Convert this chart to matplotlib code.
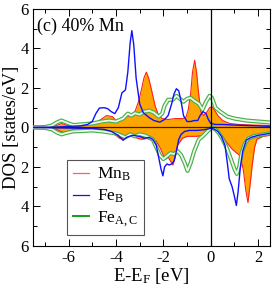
import matplotlib
matplotlib.use("Agg")
import matplotlib.pyplot as plt
from matplotlib.ticker import MultipleLocator, FuncFormatter

plt.rcParams['font.family'] = ['Liberation Serif', 'DejaVu Serif']
plt.rcParams['mathtext.fontset'] = 'custom'
plt.rcParams['mathtext.rm'] = 'Liberation Serif'
plt.rcParams['mathtext.it'] = 'Liberation Serif:italic'
plt.rcParams['axes.unicode_minus'] = False

# Fe_B spin up / spin down (blue)
feb_up_e = [-7.5, -6.5, -6.0, -5.5, -5.2, -5.0, -4.85, -4.7, -4.5, -4.35, -4.2, -4.05, -3.9, -3.75,
            -3.6, -3.5, -3.4, -3.33, -3.25, -3.15, -3.0, -2.85, -2.6, -2.4, -2.15, -1.95, -1.8,
            -1.65, -1.55, -1.45, -1.35, -1.25, -1.15, -1.0, -0.85, -0.7, -0.55, -0.45, -0.33, -0.2,
            -0.1, 0.0, 0.2, 0.5, 1.0, 1.5, 2.0, 2.5]
feb_up = [0.0, 0.02, 0.05, 0.08, 0.15, 0.3, 0.7, 0.98, 1.0, 0.95, 0.8, 0.7, 1.0, 1.75,
          1.9, 2.8, 4.3, 4.9, 4.2, 2.5, 1.2, 0.75, 0.5, 0.35, 0.27, 0.4, 0.6,
          1.2, 1.7, 1.96, 1.85, 1.3, 0.6, 0.3, 0.3, 0.35, 0.35, 0.6, 0.8, 0.7,
          0.4, 0.2, 0.15, 0.15, 0.12, 0.1, 0.08, 0.05]
feb_dn_e = [-7.5, -6.0, -5.0, -4.5, -4.2, -3.9, -3.7, -3.55, -3.3, -3.0, -2.8, -2.6, -2.45, -2.3,
            -2.2, -2.1, -2.02, -1.95, -1.85, -1.75, -1.65, -1.55, -1.45, -1.35, -1.25, -1.1,
            -0.9, -0.6, -0.3, 0.0, 0.15, 0.3, 0.45, 0.6, 0.7, 0.78, 0.9, 1.0, 1.08, 1.15, 1.25,
            1.35, 1.5, 1.7, 2.0, 2.5]
feb_dn = [0.0, -0.03, -0.05, -0.1, -0.2, -0.4, -0.65, -0.5, -0.4, -0.45, -0.55, -0.5, -0.6, -0.9,
          -1.5, -2.1, -2.45, -2.0, -1.85, -1.9, -1.85, -1.7, -1.2, -0.6, -0.35, -0.2,
          -0.15, -0.15, -0.12, -0.05, -0.08, -0.2, -0.45, -0.9, -1.8, -2.6, -3.0, -3.5, -3.95, -3.3, -2.0,
          -1.2, -0.65, -0.5, -0.4, -0.3]

# Mn_B spin up / spin down (red line, orange fill)
mnb_up_e = [-7.5, -6.8, -6.5, -6.3, -6.1, -5.8, -5.4, -5.0, -4.7, -4.4, -4.15, -4.0, -3.8, -3.6,
            -3.4, -3.2, -3.05, -2.93, -2.82, -2.72, -2.62, -2.5, -2.35, -2.2, -2.05, -1.8, -1.5,
            -1.2, -1.05, -0.95, -0.85, -0.77, -0.68, -0.6, -0.52, -0.42, -0.3, -0.15, -0.05, 0.05,
            0.15, 0.3, 0.5, 0.8, 1.2, 1.8, 2.5]
mnb_up = [0.0, 0.02, 0.1, 0.2, 0.12, 0.05, 0.08, 0.15, 0.35, 0.6, 0.55, 0.35, 0.4, 0.5,
          0.6, 0.8, 1.3, 1.9, 2.5, 2.8, 2.5, 1.9, 1.1, 0.6, 0.45, 0.4, 0.45,
          0.45, 0.5, 0.9, 1.7, 2.8, 3.4, 2.8, 1.8, 0.8, 0.6, 0.8, 1.0, 1.05,
          0.9, 0.6, 0.35, 0.2, 0.15, 0.12, 0.1]
mnb_dn_e = [-7.5, -6.8, -6.5, -6.25, -6.0, -5.7, -5.3, -5.0, -4.6, -4.3, -4.0, -3.85, -3.7, -3.5,
            -3.3, -3.1, -2.9, -2.7, -2.5, -2.3, -2.15, -2.0, -1.9, -1.8, -1.7, -1.6, -1.5, -1.4,
            -1.2, -1.0, -0.6, -0.3, -0.1, 0.0, 0.1, 0.3, 0.5, 0.7, 0.9, 1.1, 1.25, 1.38, 1.48,
            1.57, 1.65, 1.75, 1.85, 1.95, 2.2, 2.5]
mnb_dn = [0.0, -0.02, -0.1, -0.25, -0.2, -0.08, -0.06, -0.1, -0.12, -0.2, -0.4, -0.55, -0.6, -0.45,
          -0.4, -0.55, -0.6, -0.55, -0.65, -0.7, -1.0, -1.4, -1.6, -1.5, -1.7, -1.9, -1.5, -0.9,
          -0.55, -0.45, -0.45, -0.4, -0.2, -0.05, -0.1, -0.25, -0.45, -0.8, -1.1, -1.3, -1.45, -2.2, -3.2,
          -3.8, -3.0, -1.9, -1.0, -0.6, -0.45, -0.4]

# Fe_A,C spin up / spin down (green)
feac_up_e = [-7.5, -7.0, -6.7, -6.5, -6.3, -6.1, -5.8, -5.5, -5.0, -4.6, -4.3, -4.0, -3.7, -3.5,
             -3.35, -3.2, -3.0, -2.8, -2.6, -2.4, -2.2, -2.05, -1.95, -1.8, -1.6, -1.45, -1.3,
             -1.15, -1.0, -0.85, -0.7, -0.5, -0.35, -0.2, -0.05, 0.05, 0.2, 0.4, 0.7, 1.0, 1.5,
             2.0, 2.5]
feac_up = [0.0, 0.02, 0.1, 0.25, 0.35, 0.25, 0.12, 0.15, 0.2, 0.3, 0.35, 0.3, 0.45, 0.7,
           0.6, 0.72, 0.65, 0.8, 0.85, 0.75, 0.55, 0.7, 1.1, 1.4, 1.4, 1.6, 1.45,
           1.3, 1.45, 1.5, 1.35, 1.2, 0.9, 1.3, 1.6, 1.5, 1.0, 0.8, 0.55, 0.45, 0.35,
           0.3, 0.25]
feac_dn_e = [-7.5, -7.0, -6.7, -6.5, -6.3, -6.1, -5.8, -5.4, -5.0, -4.6, -4.3, -4.0, -3.8, -3.6,
             -3.4, -3.2, -3.0, -2.8, -2.6, -2.45, -2.3, -2.15, -2.0, -1.85, -1.7, -1.55, -1.4,
             -1.25, -1.1, -0.98, -0.85, -0.7, -0.5, -0.3, -0.1, 0.05, 0.2, 0.35, 0.5, 0.7, 0.85,
             1.0, 1.1, 1.2, 1.3, 1.45, 1.6, 1.8, 2.0, 2.5]
feac_dn = [0.0, -0.02, -0.1, -0.25, -0.35, -0.28, -0.2, -0.18, -0.15, -0.2, -0.25, -0.3, -0.4, -0.5,
           -0.35, -0.45, -0.35, -0.4, -0.5, -0.6, -1.0, -1.4, -1.6, -1.45, -1.3, -1.35, -1.2,
           -1.4, -1.8, -2.2, -1.8, -1.2, -0.6, -0.4, -0.15, 0.0, -0.1, -0.3, -0.6, -1.1, -1.6,
           -2.1, -2.35, -2.0, -1.3, -0.8, -0.55, -0.45, -0.4, -0.3]

fig = plt.figure(figsize=(2.73, 2.88), dpi=100)
ax = fig.add_axes([0.121, 0.146, 0.868, 0.823])

# Mn_B: orange filled, red outline
ax.fill_between(mnb_up_e, 0, mnb_up, color='#ffa500', lw=0, zorder=1)
ax.fill_between(mnb_dn_e, 0, mnb_dn, color='#ffa500', lw=0, zorder=1)
ax.plot(mnb_up_e, mnb_up, color='#ff2020', lw=0.8, zorder=2)
ax.plot(mnb_dn_e, mnb_dn, color='#ff2020', lw=0.8, zorder=2)

# Fe_A,C: green double line
for e, d in [(feac_up_e, feac_up), (feac_dn_e, feac_dn)]:
    ax.plot(e, d, color='#48b048', lw=3.0, zorder=3)
    ax.plot(e, d, color='#eef8ee', lw=1.3, zorder=3.1)

# Fe_B: blue
ax.plot(feb_up_e, feb_up, color='#1010ff', lw=1.0, zorder=4)
ax.plot(feb_dn_e, feb_dn, color='#1010ff', lw=1.0, zorder=4)

# legend handles
ax.plot([], [], color='#ff6060', lw=0.9, label=r'Mn$_\mathrm{B}$')
ax.plot([], [], color='#1010ff', lw=0.9, label=r'Fe$_\mathrm{B}$')
ax.plot([], [], color='#1a9a1a', lw=1.4, label=r'Fe$_\mathrm{A,C}$')

ax.axhline(0, color='#302010', lw=0.9, zorder=5)
ax.axvline(0, color='black', lw=0.9, zorder=5)

ax.set_xlim(-7.5, 2.5)
ax.set_ylim(-6, 6)
ax.xaxis.set_major_locator(MultipleLocator(2))
ax.xaxis.set_minor_locator(MultipleLocator(1))
ax.yaxis.set_major_locator(MultipleLocator(2))
ax.yaxis.set_minor_locator(MultipleLocator(1))
ax.yaxis.set_major_formatter(FuncFormatter(lambda v, p: '%d' % abs(round(v))))
ax.tick_params(which='both', direction='in', top=True, right=True, labelsize=12, pad=3)
ax.tick_params(which='major', length=5, width=0.7)
ax.tick_params(which='minor', length=3, width=0.7)
for s in ax.spines.values():
    s.set_linewidth(0.8)

ax.set_xlabel(r'E-E$_\mathrm{F}$ [eV]', fontsize=13.5, labelpad=0)
ax.set_ylabel('DOS [states/eV]', fontsize=13.5, labelpad=0)
ax.text(0.017, 0.928, '(c) 40% Mn', transform=ax.transAxes, fontsize=13, ha='left', va='center')

leg = ax.legend(loc='lower left', bbox_to_anchor=(0.143, 0.045), borderaxespad=0,
                fontsize=12.5, handlelength=0.9, handletextpad=0.5, labelspacing=0.25,
                fancybox=False, edgecolor='#555555', framealpha=1, borderpad=0.35)
leg.get_frame().set_linewidth(0.8)
leg.set_zorder(10)

fig.savefig('out.png', dpi=100)
